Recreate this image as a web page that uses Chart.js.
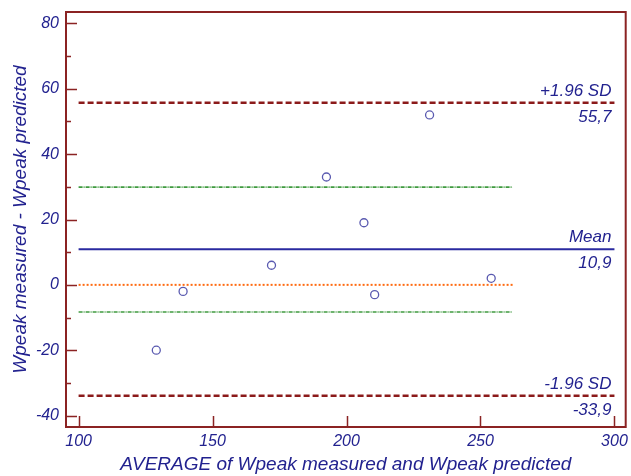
<!DOCTYPE html>
<html>
<head>
<meta charset="utf-8">
<script src="https://cdn.jsdelivr.net/npm/chart.js@4.4.1/dist/chart.umd.min.js"></script>
<style>
  html, body { margin: 0; padding: 0; background: #fff; }
  #wrap { width: 631px; height: 476px; }
</style>
</head>
<body>
<div id="wrap"><canvas id="ba-chart"></canvas></div>
<script>
// Bland-Altman: Wpeak measured vs predicted
const avgValues  = [129, 139, 172, 192.5, 206.5, 210.5, 231, 254];
const diffValues = [-20, -2, 6, 33, 19, -3, 52, 2];

const meanDiff = 10.9;
const upperLoA = 55.7;
const lowerLoA = -33.9;
const ciUpper  = 29.9;
const ciLower  = -8.3;

const lineStart = 100;
const lineEnd   = 300;
const shortEnd  = 262;

const xTicks      = [100, 150, 200, 250, 300];
const yTicks      = [-40, -20, 0, 20, 40, 60, 80];
const yMinorTicks = [-30, -10, 10, 30, 50, 70];

const refLabels = [
  { y: upperLoA, top: '+1.96 SD', bottom: '55,7' },
  { y: meanDiff, top: 'Mean',     bottom: '10,9' },
  { y: lowerLoA, top: '-1.96 SD', bottom: '-33,9' },
];

const FRAME = '#8b2323';
const TEXT  = '#22228f';
const FONT  = "'Liberation Sans', Arial, sans-serif";

function hline(y, x2, color, width, dash) {
  return {
    type: 'line',
    data: [{ x: lineStart, y }, { x: x2, y }],
    borderColor: color,
    borderWidth: width,
    borderDash: dash,
    pointRadius: 0,
    fill: false,
  };
}

const framePlugin = {
  id: 'frame',
  afterDatasetsDraw(chart) {
    const { ctx, chartArea: a, scales: { x, y } } = chart;
    ctx.save();
    ctx.strokeStyle = FRAME;
    ctx.lineWidth = 2;
    ctx.strokeRect(a.left, a.top, a.right - a.left, a.bottom - a.top);
    ctx.lineWidth = 1.5;
    ctx.beginPath();
    xTicks.forEach(v => {
      const px = Math.round(x.getPixelForValue(v)) + 0.5;
      ctx.moveTo(px, a.bottom);
      ctx.lineTo(px, a.bottom - 11);
    });
    yTicks.forEach(v => {
      const py = Math.round(y.getPixelForValue(v)) + 0.5;
      ctx.moveTo(a.left, py);
      ctx.lineTo(a.left + 11, py);
    });
    yMinorTicks.forEach(v => {
      const py = Math.round(y.getPixelForValue(v)) + 0.5;
      ctx.moveTo(a.left, py);
      ctx.lineTo(a.left + 5, py);
    });
    ctx.stroke();

    // labels on the reference lines
    ctx.fillStyle = TEXT;
    ctx.font = `italic 17px ${FONT}`;
    ctx.textAlign = 'right';
    const xr = x.getPixelForValue(lineEnd) - 3;
    refLabels.forEach(r => {
      const py = y.getPixelForValue(r.y);
      ctx.textBaseline = 'bottom';
      ctx.fillText(r.top, xr, py - 3);
      ctx.textBaseline = 'top';
      ctx.fillText(r.bottom, xr, py + 6);
    });
    ctx.restore();
  }
};

function fixedTicks(list) {
  return scale => { scale.ticks = list.map(v => ({ value: v })); };
}

new Chart(document.getElementById('ba-chart'), {
  type: 'scatter',
  data: {
    datasets: [
      hline(upperLoA, lineEnd, '#8b1a1a', 2.5, [6, 3]),
      hline(lowerLoA, lineEnd, '#8b1a1a', 2.5, [6, 3]),
      hline(ciUpper, shortEnd, '#3f9a3f', 1.6, [4, 1, 1, 1]),
      hline(ciLower, shortEnd, '#3f9a3f', 1.6, [4, 1, 1, 1]),
      hline(0, shortEnd, '#ff6a10', 2, [2, 2]),
      hline(meanDiff, lineEnd, '#2a2aa0', 2, []),
      {
        type: 'scatter',
        data: avgValues.map((v, i) => ({ x: v, y: diffValues[i] })),
        pointRadius: 4,
        pointBorderWidth: 1.3,
        pointBorderColor: '#5a5ab0',
        pointBackgroundColor: 'rgba(0,0,0,0)',
      },
    ]
  },
  options: {
    responsive: true,
    maintainAspectRatio: false,
    animation: false,
    layout: { padding: { top: 12, right: 5, left: 0, bottom: 0 } },
    plugins: { legend: { display: false }, tooltip: { enabled: false } },
    scales: {
      x: {
        type: 'linear',
        min: 95.3,
        max: 304.2,
        afterBuildTicks: fixedTicks(xTicks),
        afterFit: s => { s.height = 49; s.paddingLeft = 0; s.paddingRight = 0; },
        grid: { display: false, drawTicks: false },
        border: { display: false },
        ticks: { color: TEXT, padding: 5, font: { family: FONT, size: 16, style: 'italic' } },
        title: {
          display: true,
          text: 'AVERAGE of Wpeak measured and Wpeak predicted',
          color: TEXT,
          padding: { top: 0, bottom: 0 },
          font: { family: FONT, size: 19, style: 'italic' }
        }
      },
      y: {
        type: 'linear',
        min: -43.5,
        max: 83.5,
        afterBuildTicks: fixedTicks(yTicks),
        afterFit: s => { s.width = 66; s.paddingTop = 0; s.paddingBottom = 0; },
        grid: { display: false, drawTicks: false },
        border: { display: false },
        ticks: { color: TEXT, padding: 7, font: { family: FONT, size: 16, style: 'italic' } },
        title: {
          display: true,
          text: 'Wpeak measured - Wpeak predicted',
          color: TEXT,
          padding: { top: 9, bottom: 0 },
          font: { family: FONT, size: 19, style: 'italic' }
        }
      }
    }
  },
  plugins: [framePlugin]
});
</script>
</body>
</html>
